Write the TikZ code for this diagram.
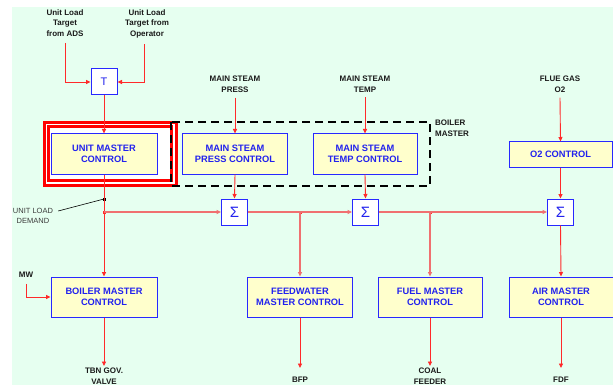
\documentclass[tikz,border=0pt]{standalone}
\usepackage{fontspec}
\setmainfont{Liberation Sans}
\usetikzlibrary{positioning, arrows.meta, calc}
\definecolor{bgmint}{HTML}{E6FFF0}
\definecolor{boxfill}{HTML}{FFFFCC}
\definecolor{boxedge}{HTML}{2828FF}
\definecolor{boxtext}{HTML}{2222EE}
\definecolor{sigred}{HTML}{FF2A2A}
\definecolor{busred}{HTML}{F07070}
\definecolor{frmred}{HTML}{FF0000}
\definecolor{lblink}{HTML}{1A1A1A}

\begin{document}
\begin{tikzpicture}[
  x=1pt, y=-1pt,
  line join=miter,
  >={Triangle[length=4.5pt,width=4pt]},
  ctl/.style  = {draw=boxedge, line width=1pt, fill=boxfill,
                 minimum width=105pt, minimum height=40pt, inner sep=1pt,
                 align=center, text=boxtext,
                 font=\fontsize{9.3}{11.5}\selectfont\bfseries},
  sumbox/.style = {draw=boxedge, line width=1pt, fill=white,
                 minimum size=26pt, inner sep=0pt, text=boxtext,
                 font=\fontsize{15}{15}\selectfont},
  sig/.style  = {draw=sigred, line width=0.9pt},
  bus/.style  = {draw=busred, line width=1.5pt},
  io/.style   = {font=\fontsize{8}{10.5}\selectfont\bfseries, text=lblink,
                 align=center, inner sep=0pt},
  jdot/.style = {draw=sigred, fill=sigred, rectangle, minimum size=2.5pt,
                 inner sep=0pt}
]
\useasboundingbox (0,0) rectangle (613,385);
\fill[bgmint] (12,7) rectangle (613,385);

% 红色双框与锅炉主控虚线框
\draw[frmred, line width=3pt, fill=white] (44,122.2) rectangle (176.8,185.2);
\draw[frmred, line width=3pt] (48.4,126.6) rectangle (171.6,180.8);
\draw[black, line width=2.3pt, dash pattern=on 8pt off 5pt] (171,122) rectangle (430,186);
\node[io, anchor=north west, align=left] (bmlbl) at (435,120) {BOILER\\MASTER};

% 输入信号
\node[io, anchor=north] (adsin) at (65,9.5)  {Unit Load\\Target\\from ADS};
\node[io, anchor=north] (opin)  at (147,9.5) {Unit Load\\Target from\\Operator};
\node[io, anchor=north] (mspin) at (235,76)  {MAIN STEAM\\PRESS};
\node[io, anchor=north] (mstin) at (365,76)  {MAIN STEAM\\TEMP};
\node[io, anchor=north] (flue)  at (560,76)  {FLUE GAS\\O2};
\node[io] (mw) at (26,275) {MW};

% 控制块
\node[sumbox, font=\fontsize{11}{11}\selectfont] (tsel) at (104,82) {T};
\node[ctl, minimum width=106pt] (umc) at (104,154) {UNIT MASTER\\CONTROL};
\node[ctl] (msp) at (235,154) {MAIN STEAM\\PRESS CONTROL};
\node[ctl, minimum width=104pt] (mst) at (365,154) {MAIN STEAM\\TEMP CONTROL};
\node[ctl, minimum width=103pt, minimum height=25pt] (o2c) at (560.5,154.5) {O2 CONTROL};
\node[sumbox] (s1) at (234.5,212) {Σ};
\node[sumbox] (s2) at (365.5,212) {Σ};
\node[sumbox] (s3) at (560.5,212) {Σ};
\node[ctl, minimum width=106pt] (bmc) at (104,297) {BOILER MASTER\\CONTROL};
\node[ctl] (fwc) at (300,297) {FEEDWATER\\MASTER CONTROL};
\node[ctl, minimum width=104pt] (fmc) at (430,297) {FUEL MASTER\\CONTROL};
\node[ctl, minimum width=104pt] (amc) at (561,297) {AIR MASTER\\CONTROL};

% 输出
\coordinate (tbnend) at (104,366);
\coordinate (bfpend) at (300,368);
\coordinate (coalend) at (430,366);
\coordinate (fdfend) at (561,368);
\node[io, anchor=north] (tbn)  at (104,368) {TBN GOV.\\VALVE};
\node[io, anchor=north] (bfp)  at (300,377) {BFP};
\node[io, anchor=north] (coal) at (430,368) {COAL\\FEEDER};
\node[io, anchor=north] (fdf)  at (561,377) {FDF};

% 节点：汇流点
\node[jdot] (j1) at (umc.south |- s1.west) {};
\node[jdot] (j2) at (fwc.north |- s1.east) {};
\node[jdot] (j3) at (fmc.north |- s2.east) {};
\node[draw=black, fill=black, rectangle, minimum size=2.5pt, inner sep=0pt] (uldpt) at (104,199) {};
\node[font=\fontsize{7.5}{10}\selectfont, text=lblink!85, align=center, inner sep=1pt]
  (uld) at (33,216) {UNIT LOAD\\DEMAND};

% T 选择
\draw[sig, ->] ($(adsin.south)+(0,6)$) |- (tsel.west);
\draw[sig, ->] ($(opin.south)+(-3,6)$) |- (tsel.east);
\draw[sig, ->] (tsel.south) -- (umc.north);
% 机组负荷指令
\draw[sig, ->] (umc.south) -- (bmc.north);
\draw[black, line width=0.6pt] ($(uld.east)+(4,-5)$) -- (uldpt.center);
\draw[bus, ->] (j1.center) -- (s1.west);
\draw[bus, ->] (s1.east) -- (s2.west);
\draw[bus, ->] (s2.east) -- (s3.west);
\draw[bus, ->] (j2.center) -- (fwc.north);
\draw[bus, ->] (j3.center) -- (fmc.north);
\draw[sig, ->] (s3.south) -- (amc.north);
% 上游信号
\draw[sig, ->] ($(mspin.south)+(0,5)$) -- (msp.north);
\draw[sig, ->] ($(mstin.south)+(0,5)$) -- (mst.north);
\draw[sig, ->] ($(flue.south)+(0,5)$) -- (o2c.north);
\draw[sig, ->] (msp.south) -- (s1.north);
\draw[sig, ->] (mst.south) -- (s2.north);
\draw[sig, ->] (o2c.south) -- (s3.north);
\draw[sig, ->] ($(mw.south)+(0,6)$) |- (bmc.west);
% 下游输出
\draw[sig, ->] (bmc.south) -- (tbnend);
\draw[sig, ->] (fwc.south) -- (bfpend);
\draw[sig, ->] (fmc.south) -- (coalend);
\draw[sig, ->] (amc.south) -- (fdfend);

\end{tikzpicture}
\end{document}
